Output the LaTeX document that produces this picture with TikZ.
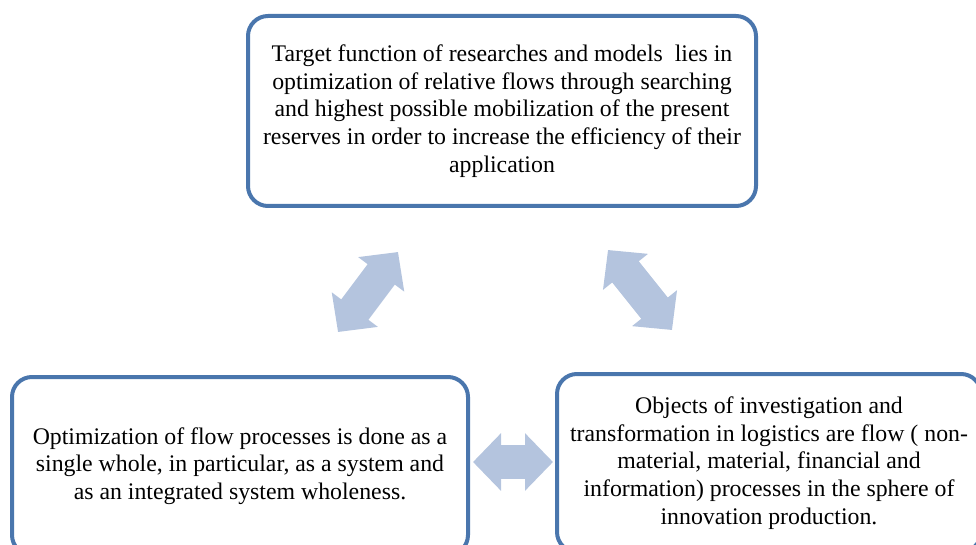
\documentclass[tikz,border=0pt]{standalone}
\usepackage{fontspec}
\setmainfont{LiberationSerif}[Extension=.ttf,UprightFont=*-Regular,BoldFont=*-Bold]
\usetikzlibrary{arrows.meta}

\definecolor{frameblue}{RGB}{74,118,173}
\definecolor{arrowblue}{RGB}{180,196,222}

\begin{document}
\begin{tikzpicture}[x=1pt,y=1pt]
  \tikzset{block/.style = {shape=rectangle,draw=frameblue,line width=4pt,rounded corners=20pt,
      align=center,inner sep=0pt,font=\fontsize{23.8}{27.6}\selectfont}}
  \tikzset{link/.style = {draw=arrowblue,line width=34pt,
      {Triangle[width=56pt,length=28pt,fill=arrowblue]}-{Triangle[width=56pt,length=28pt,fill=arrowblue]}}}

  \useasboundingbox (0,0) rectangle (976,-545);

  \node[block, minimum width=508pt, minimum height=190pt] (target) at (502,-111)
  {Target function of researches and models\ \ lies in\\
   optimization of relative flows through searching\\
   and highest possible mobilization of the present\\
   reserves in order to increase the efficiency of their\\
   application};

  \node[block, minimum width=456pt, minimum height=178pt] (optim) at (240,-466)
  {Optimization of flow processes is done as a\\
   single whole, in particular, as a system and\\
   as an integrated system wholeness.};

  \node[block, minimum width=424pt, minimum height=178pt] (objects) at (769,-463)
  {Objects of investigation and\\
   transformation in logistics are flow ( non-\\
   material, material, financial and\\
   information) processes in the sphere of\\
   innovation production.};

  \coordinate (l0) at (338,-332);
  \coordinate (l1) at (398,-252);
  \coordinate (r0) at (608,-250);
  \coordinate (r1) at (672,-330);
  \coordinate (m0) at (473,-462);
  \coordinate (m1) at (553,-462);

  \draw[link] (l0) -- (l1);
  \draw[link] (r0) -- (r1);
  \draw[link] (m0) -- (m1);
\end{tikzpicture}
\end{document}
